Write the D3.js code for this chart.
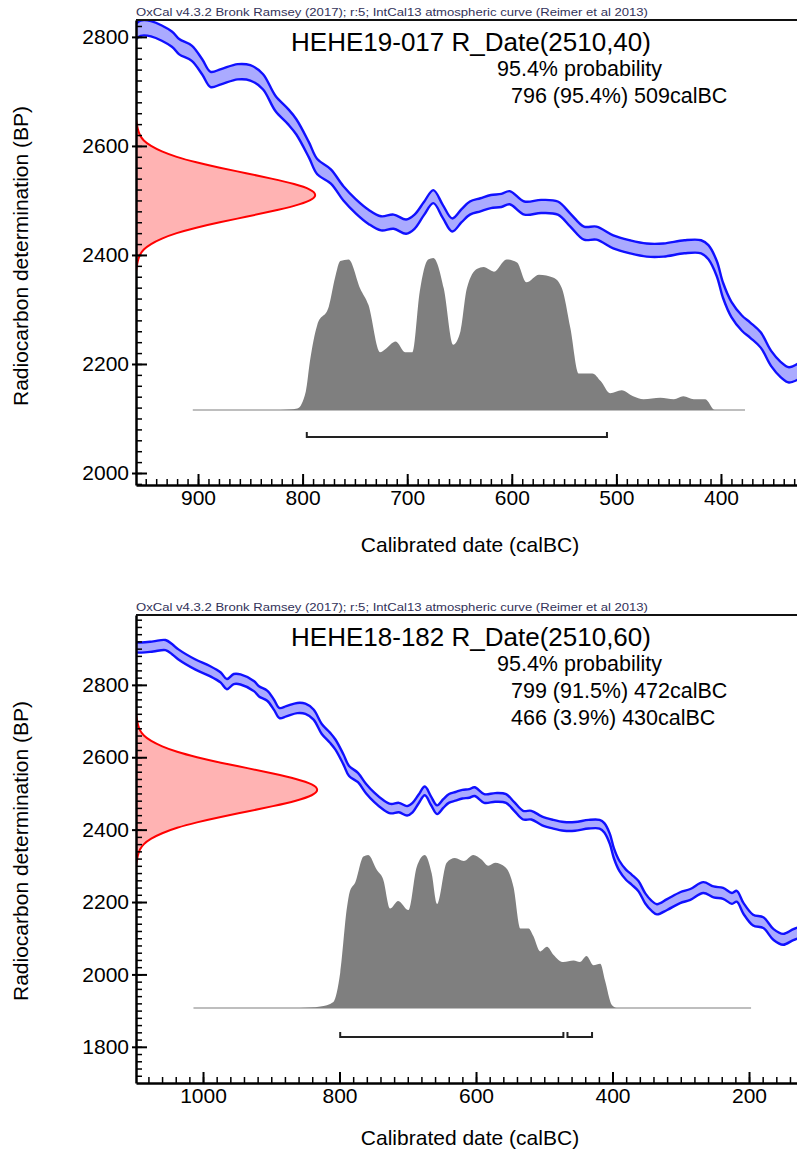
<!DOCTYPE html>
<html>
<head>
<meta charset="utf-8">
<script src="https://cdn.jsdelivr.net/npm/d3@7"></script>
<style>
  body { margin: 0; background: #fff; }
  svg text { font-family: "Liberation Sans", Arial, sans-serif; }
</style>
</head>
<body>
<div id="chart"></div>
<script>
// IntCal13 atmospheric curve (calBC, BP, 1 sigma)
const curveYears = [1105, 1090, 1073, 1055, 1045, 1036, 1011, 990, 974, 965,
  955, 945, 925, 918, 906, 896, 888, 878, 862, 850,
  838, 826, 814, 806, 794, 786, 773, 761, 749, 737,
  725, 713, 701, 693, 684, 675, 666, 657, 648, 640,
  630, 620, 610, 602, 588, 572, 556, 544, 531, 519,
  503, 487, 471, 455, 435, 419, 412, 404, 398, 390,
  380, 372, 362, 352, 343, 335, 320, 301, 286, 267,
  252, 238, 225, 218, 208, 194, 179, 164, 150, 135, 120];
const curveBP = [2905, 2903, 2906, 2910, 2898, 2884, 2856, 2838, 2820, 2802,
  2816, 2815, 2796, 2782, 2770, 2745, 2722, 2727, 2736, 2734,
  2718, 2678, 2654, 2635, 2593, 2562, 2544, 2513, 2489, 2470,
  2458, 2461, 2452, 2461, 2485, 2507, 2480, 2455, 2472, 2486,
  2492, 2498, 2500, 2505, 2486, 2489, 2486, 2464, 2440, 2440,
  2424, 2415, 2409, 2409, 2415, 2415, 2405, 2375, 2335, 2300,
  2275, 2262, 2244, 2210, 2190, 2180, 2193, 2212, 2221, 2240,
  2228, 2224, 2210, 2216, 2182, 2150, 2143, 2110, 2097, 2110, 2120];
const curveSd = [14, 14, 14, 14, 14, 14, 14, 14, 14, 14,
  14, 14, 14, 14, 14, 14, 14, 14, 14, 14,
  14, 14, 14, 14, 14, 14, 13, 13, 13, 13,
  13, 13, 13, 13, 12, 12, 12, 12, 12, 12,
  12, 12, 12, 12, 12, 12, 12, 12, 12, 12,
  12, 12, 12, 12, 12, 12, 13, 14, 14, 14,
  14, 14, 14, 14, 14, 14, 15, 15, 15, 15,
  15, 15, 15, 15, 15, 15, 15, 15, 15, 15, 15];

const header = 'OxCal v4.3.2 Bronk Ramsey (2017); r:5; IntCal13 atmospheric curve (Reimer et al 2013)';
const probLabel = '95.4% probability';

// HEHE19-017
const topName = 'HEHE19-017 R_Date(2510,40)';
const topRangeFrom = [796];
const topRangeTo = [509];
const topRangePct = ['95.4'];
const topHistYears = [821, 805, 797, 793, 786, 775, 769, 764, 756, 745,
  737, 726, 721, 711, 702, 695, 688, 680, 675, 665,
  656, 649, 643, 633, 627, 617, 605, 595, 586, 574,
  560, 552, 544, 536, 523, 515, 506, 495, 484, 474,
  458, 445, 436, 426, 415, 406, 391];
const topHistDensity = [0, 0.01, 0.12, 0.32, 0.56, 0.68, 0.87, 0.98, 0.99, 0.80,
  0.69, 0.38, 0.40, 0.45, 0.38, 0.38, 0.78, 0.99, 1.0, 0.80,
  0.43, 0.52, 0.80, 0.93, 0.94, 0.91, 0.99, 0.97, 0.84, 0.89,
  0.87, 0.80, 0.54, 0.24, 0.24, 0.19, 0.11, 0.13, 0.09, 0.07,
  0.08, 0.07, 0.09, 0.07, 0.07, 0.0, 0];
const topRedBP = [2370, 2380, 2390, 2400, 2410, 2420, 2430, 2440, 2450, 2460,
  2470, 2480, 2490, 2500, 2510, 2520, 2530, 2540, 2550, 2560,
  2570, 2580, 2590, 2600, 2610, 2620, 2630, 2640, 2650];
const topRedDensity = [0, 0.005, 0.01, 0.02, 0.04, 0.08, 0.14, 0.22, 0.33, 0.46,
  0.61, 0.75, 0.88, 0.97, 1.0, 0.97, 0.88, 0.75, 0.61, 0.46,
  0.33, 0.22, 0.14, 0.08, 0.04, 0.02, 0.01, 0.005, 0];
const topXTicks = [900, 800, 700, 600, 500, 400];
const topYTicks = [2000, 2200, 2400, 2600, 2800];

// HEHE18-182
const bottomName = 'HEHE18-182 R_Date(2510,60)';
const bottomRangeFrom = [799, 466];
const bottomRangeTo = [472, 430];
const bottomRangePct = ['91.5', '3.9'];
const bottomHistYears = [858, 828, 809, 799, 789, 785, 777, 765, 758, 745,
  736, 726, 714, 699, 687, 675, 665, 657, 643, 631,
  618, 604, 592, 582, 572, 557, 545, 535, 523, 516,
  506, 496, 487, 472, 457, 448, 438, 428, 418, 411,
  401, 394];
const bottomHistDensity = [0, 0.01, 0.04, 0.23, 0.66, 0.76, 0.82, 0.99, 1.0, 0.90,
  0.84, 0.65, 0.70, 0.64, 0.92, 1.0, 0.88, 0.68, 0.95, 0.98,
  0.96, 1.0, 0.97, 0.93, 0.95, 0.92, 0.79, 0.52, 0.52, 0.47,
  0.37, 0.40, 0.35, 0.30, 0.31, 0.30, 0.34, 0.28, 0.29, 0.18,
  0.02, 0];
const bottomRedBP = [2300, 2315, 2330, 2345, 2360, 2375, 2390, 2405, 2420, 2435,
  2450, 2465, 2480, 2495, 2510, 2525, 2540, 2555, 2570, 2585,
  2600, 2615, 2630, 2645, 2660, 2675, 2690, 2705, 2720];
const bottomRedDensity = [0, 0.005, 0.01, 0.02, 0.04, 0.08, 0.14, 0.22, 0.33, 0.46,
  0.61, 0.75, 0.88, 0.97, 1.0, 0.97, 0.88, 0.75, 0.61, 0.46,
  0.33, 0.22, 0.14, 0.08, 0.04, 0.02, 0.01, 0.005, 0];
const bottomXTicks = [1000, 800, 600, 400, 200];
const bottomYTicks = [1800, 2000, 2200, 2400, 2600, 2800];

const svg = d3.select('#chart').append('svg')
    .attr('width', 797)
    .attr('height', 1153);

function drawPanel(p) {
    const left = 136, right = 797;
    const x = d3.scaleLinear().domain(p.xDomain).range([left, right]);
    const y = d3.scaleLinear().domain(p.yDomain).range([p.bottom, p.top]);
    const hy = d3.scaleLinear().domain([0, 1]).range([p.histBase, p.histBase - p.histHeight]);
    const rx = d3.scaleLinear().domain([0, 1]).range([left, left + p.redWidth]);

    svg.append('clipPath').attr('id', 'clip-' + p.id)
      .append('rect')
        .attr('x', left).attr('y', p.top)
        .attr('width', right - left).attr('height', p.bottom - p.top);

    const plot = svg.append('g').attr('clip-path', `url(#clip-${p.id})`);

    // calibrated date distribution
    plot.append('line')
        .attr('x1', x(p.histSpan[0])).attr('x2', x(p.histSpan[1]))
        .attr('y1', p.histBase).attr('y2', p.histBase)
        .attr('stroke', '#a8a8a8').attr('stroke-width', 1.5);

    const hist = p.histYears.map((yr, i) => [yr, p.histDensity[i]]);
    plot.append('path').datum(hist)
        .attr('fill', '#7f7f7f')
        .attr('d', d3.area()
            .x(d => x(d[0]))
            .y0(p.histBase)
            .y1(d => hy(d[1]))
            .curve(d3.curveMonotoneX));

    // radiocarbon measurement
    const red = p.redBP.map((bp, i) => [bp, p.redDensity[i]]);
    plot.append('path').datum(red)
        .attr('fill', '#ffb3b3')
        .attr('d', d3.area().y(d => y(d[0])).x0(left).x1(d => rx(d[1])).curve(d3.curveBasis));
    plot.append('path').datum(red)
        .attr('fill', 'none')
        .attr('stroke', '#ff0000')
        .attr('stroke-width', 2)
        .attr('d', d3.line().y(d => y(d[0])).x(d => rx(d[1])).curve(d3.curveBasis));

    // calibration curve band
    const band = curveYears.map((yr, i) => ({ yr: yr, hi: curveBP[i] + curveSd[i], lo: curveBP[i] - curveSd[i] }));
    plot.append('path').datum(band)
        .attr('fill', '#aaaaff')
        .attr('d', d3.area().x(d => x(d.yr)).y0(d => y(d.lo)).y1(d => y(d.hi)).curve(d3.curveCatmullRom));
    ['hi', 'lo'].forEach(k => {
        plot.append('path').datum(band)
            .attr('fill', 'none')
            .attr('stroke', '#1010ff')
            .attr('stroke-width', 2.4)
            .attr('d', d3.line().x(d => x(d.yr)).y(d => y(d[k])).curve(d3.curveCatmullRom));
    });

    // 95.4% ranges
    p.rangeFrom.forEach((from, i) => {
        const path = d3.path();
        path.moveTo(x(from), p.bracketY - 5);
        path.lineTo(x(from), p.bracketY);
        path.lineTo(x(p.rangeTo[i]), p.bracketY);
        path.lineTo(x(p.rangeTo[i]), p.bracketY - 5);
        svg.append('path')
            .attr('fill', 'none')
            .attr('stroke', '#222')
            .attr('stroke-width', 2)
            .attr('d', path.toString());
    });

    // axes
    const yMinor = d3.range(p.yDomain[0] - p.yDomain[0] % 20 + 20, p.yDomain[1], 20);
    const xMinor = d3.range(Math.ceil(p.xDomain[1] / p.xMinorStep) * p.xMinorStep, p.xDomain[0], p.xMinorStep);

    svg.append('g')
        .attr('transform', `translate(${left},0)`)
        .call(d3.axisLeft(y).tickValues(yMinor).tickSize(-6).tickFormat(''))
        .call(g => g.select('.domain').remove())
        .selectAll('line').attr('stroke-width', 1.5);
    svg.append('g')
        .attr('transform', `translate(0,${p.bottom})`)
        .call(d3.axisBottom(x).tickValues(xMinor).tickSize(-6).tickFormat(''))
        .call(g => g.select('.domain').remove())
        .selectAll('line').attr('stroke-width', 1.5);

    const yAx = svg.append('g')
        .attr('transform', `translate(${left},0)`)
        .call(d3.axisLeft(y).tickValues(p.yTicks).tickSize(-11).tickSizeOuter(0).tickPadding(7).tickFormat(d3.format('d')))
        .attr('font-size', 21)
        .attr('font-family', '"Liberation Sans", Arial, sans-serif');
    yAx.selectAll('.tick line').attr('x1', -4).attr('stroke-width', 2);
    yAx.select('.domain').attr('stroke-width', 2.5);

    const xAx = svg.append('g')
        .attr('transform', `translate(0,${p.bottom})`)
        .call(d3.axisBottom(x).tickValues(p.xTicks).tickSize(-11).tickSizeOuter(0).tickPadding(5).tickFormat(d3.format('d')))
        .attr('font-size', 21)
        .attr('font-family', '"Liberation Sans", Arial, sans-serif');
    xAx.selectAll('.tick line').attr('stroke-width', 2);
    xAx.select('.domain').attr('stroke-width', 2.5);

    // frame top and header
    svg.append('line')
        .attr('x1', left).attr('x2', right)
        .attr('y1', p.top).attr('y2', p.top)
        .attr('stroke', '#111').attr('stroke-width', 2);
    svg.append('text')
        .attr('x', left).attr('y', p.top - 4)
        .attr('font-size', 10.5)
        .attr('fill', '#33335a')
        .attr('textLength', 512)
        .attr('lengthAdjust', 'spacingAndGlyphs')
        .text(header);

    // labels
    svg.append('text')
        .attr('x', 471).attr('y', p.top + 31)
        .attr('text-anchor', 'middle')
        .attr('font-size', 26)
        .text(p.name);
    svg.append('text')
        .attr('x', 497).attr('y', p.top + 56)
        .attr('font-size', 21.5)
        .text(probLabel);
    p.rangeFrom.forEach((from, i) => {
        svg.append('text')
            .attr('x', 511).attr('y', p.top + 83 + i * 27)
            .attr('font-size', 21.5)
            .text(`${from} (${p.rangePct[i]}%) ${p.rangeTo[i]}calBC`);
    });

    svg.append('text')
        .attr('transform', `translate(28,${p.yLabelY}) rotate(-90)`)
        .attr('text-anchor', 'middle')
        .attr('font-size', 21)
        .text('Radiocarbon determination (BP)');
    svg.append('text')
        .attr('x', 470).attr('y', p.xLabelY)
        .attr('text-anchor', 'middle')
        .attr('font-size', 21)
        .text('Calibrated date (calBC)');
}

drawPanel({
    id: 'a', top: 20, bottom: 485,
    xDomain: [959.3, 327.3], yDomain: [1978, 2831], xMinorStep: 10,
    xTicks: topXTicks, yTicks: topYTicks,
    histYears: topHistYears, histDensity: topHistDensity,
    histBase: 410, histHeight: 152, histSpan: [905, 377],
    redBP: topRedBP, redDensity: topRedDensity, redWidth: 181,
    rangeFrom: topRangeFrom, rangeTo: topRangeTo, rangePct: topRangePct,
    bracketY: 437, name: topName, yLabelY: 256, xLabelY: 552
});

drawPanel({
    id: 'b', top: 615, bottom: 1083,
    xDomain: [1098.2, 129.7], yDomain: [1700, 2993], xMinorStep: 20,
    xTicks: bottomXTicks, yTicks: bottomYTicks,
    histYears: bottomHistYears, histDensity: bottomHistDensity,
    histBase: 1008, histHeight: 153, histSpan: [1014, 197],
    redBP: bottomRedBP, redDensity: bottomRedDensity, redWidth: 183,
    rangeFrom: bottomRangeFrom, rangeTo: bottomRangeTo, rangePct: bottomRangePct,
    bracketY: 1037, name: bottomName, yLabelY: 851, xLabelY: 1145
});
</script>
</body>
</html>
